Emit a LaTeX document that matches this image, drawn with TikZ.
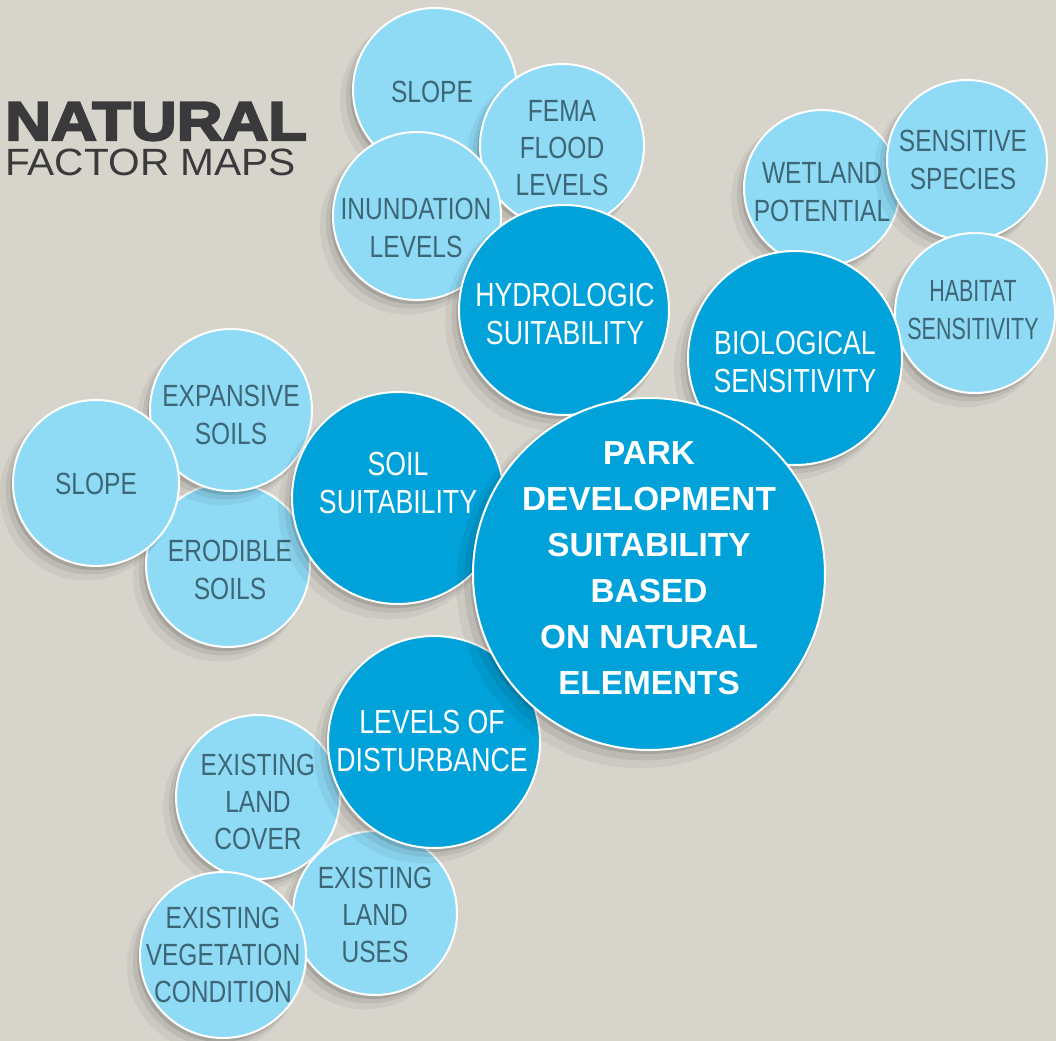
\documentclass[tikz,border=0pt]{standalone}
\usepackage{fontspec}
\setmainfont{Liberation Sans}
\newfontfamily\narrowfont[FakeStretch=0.8]{Liberation Sans}
\newfontfamily\narrowerfont[FakeStretch=0.7]{Liberation Sans}
\newfontfamily\titlefont[FakeStretch=1.16,FakeBold=4]{Liberation Sans}
\newfontfamily\subtitlefont[FakeStretch=1.07]{Liberation Sans}
\usetikzlibrary{shadows}
\definecolor{bgc}{HTML}{D7D4CC}
\definecolor{lightc}{HTML}{8FDBF5}
\definecolor{darkc}{HTML}{00A2D9}
\definecolor{ltextc}{HTML}{3D6676}
\definecolor{titlec}{HTML}{3A3A3C}
\tikzset{
  softshadow/.style={
    general shadow={shadow xshift=-2pt, shadow yshift=-3pt, fill=black, draw=none, fill opacity=0.12},
    general shadow={shadow xshift=-4pt, shadow yshift=-5pt, shadow scale=1.02, fill=black, draw=none, fill opacity=0.07},
    general shadow={shadow xshift=-7pt, shadow yshift=-8pt, shadow scale=1.04, fill=black, draw=none, fill opacity=0.05}},
  lightcirc/.style={circle, fill=lightc, draw=white, line width=1.5pt, minimum size=#1*1.5pt, inner sep=0pt, softshadow},
  darkcirc/.style={circle, fill=darkc, draw=white, line width=1.5pt, minimum size=#1*1.5pt, inner sep=0pt, softshadow},
  ltxt/.style={align=center, inner sep=0pt, text=ltextc, font=\narrowfont\fontsize{23}{28}\selectfont},
  dtxt/.style={align=center, inner sep=0pt, text=white, font=\narrowfont\fontsize{25}{28}\selectfont},
  ctxt/.style={align=center, inner sep=0pt, text=white, font=\bfseries\fontsize{25}{34.5}\selectfont}
}
\begin{document}
\begin{tikzpicture}[x=0.75pt,y=-0.75pt]
\fill[bgc] (0,0) rectangle (1056,1041);
\useasboundingbox (0,0) rectangle (1056,1041);
% title
\node[anchor=base west, inner sep=0pt, text=titlec, font=\titlefont\bfseries\fontsize{41}{41}\selectfont] (title1) at (5,140) {NATURAL};
\node[anchor=base west, inner sep=0pt, text=titlec, font=\subtitlefont\fontsize{28.5}{29}\selectfont] (title2) at (5,176) {FACTOR MAPS};
% hydrologic group
\node[lightcirc=82] (c-slope1) at (435,90) {};
\node[ltxt] (t-slope1) at (432,92) {SLOPE};
\node[lightcirc=82] (c-fema) at (562,146) {};
\node[ltxt] (t-fema) at (562,148) {FEMA\\FLOOD\\LEVELS};
\node[lightcirc=84] (c-inund) at (417,216) {};
\node[ltxt] (t-inund) at (416,228) {INUNDATION\\LEVELS};
% biological group
\node[lightcirc=78] (c-wet) at (822,188) {};
\node[ltxt] (t-wet) at (822,192) {WETLAND\\POTENTIAL};
\node[lightcirc=80] (c-spec) at (967,160) {};
\node[ltxt] (t-spec) at (963,160) {SENSITIVE\\SPECIES};
\node[lightcirc=80] (c-hab) at (975,313) {};
\node[ltxt, font=\narrowerfont\fontsize{23}{28}\selectfont] (t-hab) at (973,310) {HABITAT\\SENSITIVITY};
% soil group
\node[lightcirc=82] (c-ero) at (228,565) {};
\node[ltxt] (t-ero) at (230,570) {ERODIBLE\\SOILS};
\node[lightcirc=81] (c-exp) at (231,410) {};
\node[ltxt] (t-exp) at (231,415) {EXPANSIVE\\SOILS};
\node[lightcirc=83] (c-slope2) at (96,483) {};
\node[ltxt] (t-slope2) at (96,484) {SLOPE};
% disturbance group
\node[lightcirc=82] (c-cover) at (258,797) {};
\node[ltxt] (t-cover) at (258,802) {EXISTING\\LAND\\COVER};
\node[lightcirc=82] (c-uses) at (375,913) {};
\node[ltxt] (t-uses) at (375,915) {EXISTING\\LAND\\USES};
\node[lightcirc=83] (c-veg) at (223,955) {};
\node[ltxt] (t-veg) at (223,955) {EXISTING\\VEGETATION\\CONDITION};
% dark circles
\node[darkcirc=105] (c-hyd) at (564,310) {};
\node[dtxt] (t-hyd) at (565,314) {HYDROLOGIC\\SUITABILITY};
\node[darkcirc=107] (c-bio) at (795,358) {};
\node[dtxt] (t-bio) at (795,362) {BIOLOGICAL\\SENSITIVITY};
\node[darkcirc=106] (c-soil) at (398,498) {};
\node[dtxt] (t-soil) at (398,483) {SOIL\\SUITABILITY};
\node[darkcirc=106] (c-dist) at (434,742) {};
\node[dtxt] (t-dist) at (432,741) {LEVELS OF\\DISTURBANCE};
% central
\node[darkcirc=176] (c-park) at (649,574) {};
\node[ctxt] (t-park) at (649,568) {PARK\\DEVELOPMENT\\SUITABILITY\\BASED\\ON NATURAL\\ELEMENTS};
\end{tikzpicture}
\end{document}
